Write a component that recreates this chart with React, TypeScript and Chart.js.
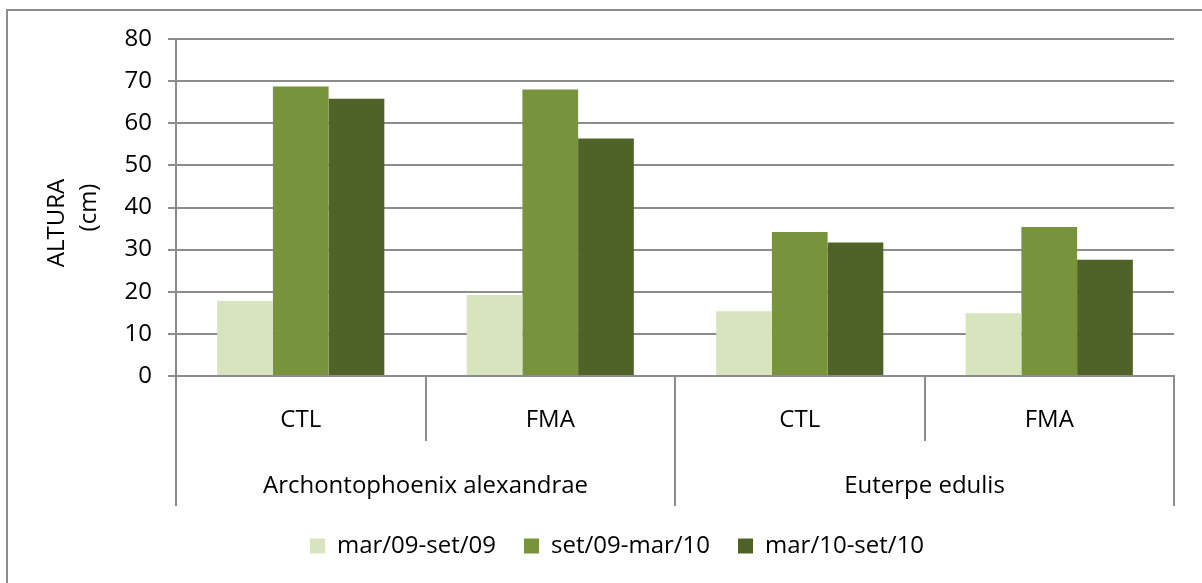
import React, { useEffect, useRef } from "react";
import { Chart, registerables } from "chart.js";

Chart.register(...registerables);

const categories = ["CTL", "FMA", "CTL", "FMA"];
const groups = ["Archontophoenix alexandrae", "Euterpe edulis"];
const seriesNames = ["mar/09-set/09", "set/09-mar/10", "mar/10-set/10"];
const marSet09 = [17.8, 19.2, 15.4, 14.9];
const setMar10 = [68.7, 68.0, 34.2, 35.4];
const marSet10 = [65.8, 56.4, 31.7, 27.6];
const seriesColors = ["#D7E4BD", "#77933C", "#4F6228"];
const yTicks = { min: 0, max: 80, step: 10 };
const yTitle = ["ALTURA     ", "(cm)"];

const GRID = "#8c8c8c";
const FONT = "'Open Sans', 'DejaVu Sans', sans-serif";
const FS = 24;

const frame = {
  id: "frame",
  beforeDraw(chart: any) {
    const ctx = chart.ctx;
    ctx.save();
    ctx.fillStyle = "#ffffff";
    ctx.fillRect(0, 0, chart.width, chart.height);
    ctx.strokeStyle = GRID;
    ctx.lineWidth = 2;
    ctx.strokeRect(7, 10, chart.width, chart.height);
    ctx.restore();
  },
};

export default function App() {
  const ref = useRef<HTMLCanvasElement | null>(null);

  useEffect(() => {
    if (!ref.current) return;
    const series = [marSet09, setMar10, marSet10];
    const chart = new Chart(ref.current, {
      type: "bar",
      data: {
        labels: categories,
        datasets: series.map((d, i) => ({
          label: seriesNames[i],
          data: d,
          backgroundColor: seriesColors[i],
          borderWidth: 0,
          barPercentage: 1,
          categoryPercentage: 0.67,
        })),
      },
      plugins: [frame],
      options: {
        responsive: false,
        animation: false,
        events: [],
        font: { family: FONT, size: FS },
        layout: { padding: { left: 60, right: 28, top: 39, bottom: 15 } },
        plugins: {
          tooltip: { enabled: false },
          legend: {
            position: "bottom",
            labels: {
              boxWidth: 15,
              boxHeight: 15,
              padding: 28,
              color: "#000",
              font: { family: FONT, size: FS },
            },
          },
        },
        scales: {
          x: {
            type: "category",
            weight: 0,
            grid: {
              offset: true,
              drawOnChartArea: false,
              tickLength: 65,
              color: GRID,
              lineWidth: 2,
            },
            border: { display: true, color: GRID, width: 2 },
            ticks: {
              padding: -35,
              color: "#000",
              maxRotation: 0,
              autoSkip: false,
              font: { family: FONT, size: FS },
            },
            afterFit: (s: any) => {
              s.height = 65;
            },
          },
          x2: {
            type: "category",
            labels: groups,
            position: "bottom",
            weight: 1,
            offset: true,
            grid: {
              offset: true,
              drawOnChartArea: false,
              tickLength: 65,
              color: GRID,
              lineWidth: 2,
            },
            border: { display: false },
            ticks: {
              padding: -34,
              color: "#000",
              maxRotation: 0,
              autoSkip: false,
              font: { family: FONT, size: FS },
            },
            afterFit: (s: any) => {
              s.height = 65;
            },
          },
          y: {
            min: yTicks.min,
            max: yTicks.max,
            ticks: {
              stepSize: yTicks.step,
              padding: 16,
              color: "#000",
              font: { family: FONT, size: FS },
            },
            grid: { color: GRID, lineWidth: 2, tickLength: 8 },
            border: { display: true, color: GRID, width: 2 },
            title: {
              display: true,
              text: yTitle,
              color: "#000",
              padding: { top: -19, bottom: 0 },
              font: { family: FONT, size: FS, lineHeight: 1.35 },
            },
            afterFit: (s: any) => {
              s.width = 116;
            },
          },
        },
      } as any,
    });
    return () => chart.destroy();
  }, []);

  return (
    <div style={{ position: "fixed", left: 0, top: 0, width: 1202, height: 583 }}>
      <canvas ref={ref} width={1202} height={583} style={{ display: "block" }} />
    </div>
  );
}
